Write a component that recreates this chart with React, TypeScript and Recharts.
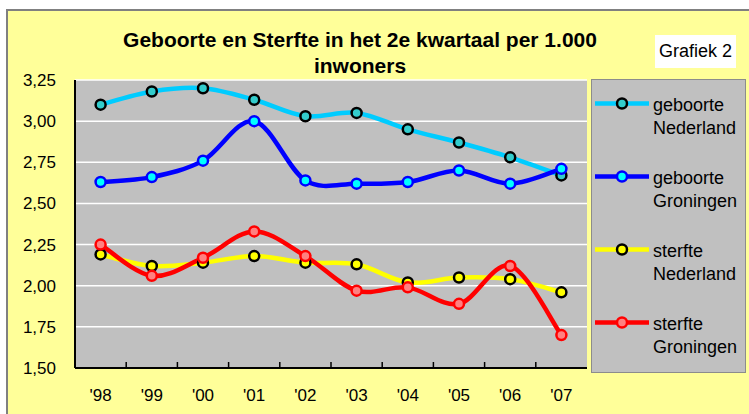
import { LineChart, Line, XAxis, YAxis, CartesianGrid } from 'recharts';

const years = ["'98", "'99", "'00", "'01", "'02", "'03", "'04", "'05", "'06", "'07"];
const geboorteNederland = [3.1, 3.18, 3.2, 3.13, 3.03, 3.05, 2.95, 2.87, 2.78, 2.67];
const geboorteGroningen = [2.63, 2.66, 2.76, 3.0, 2.64, 2.62, 2.63, 2.7, 2.62, 2.71];
const sterfteNederland = [2.19, 2.12, 2.14, 2.18, 2.14, 2.13, 2.02, 2.05, 2.04, 1.96];
const sterfteGroningen = [2.25, 2.06, 2.17, 2.33, 2.18, 1.97, 1.99, 1.89, 2.12, 1.7];
const yTicks = [1.5, 1.75, 2.0, 2.25, 2.5, 2.75, 3.0, 3.25];

const data = years.map((year, i) => ({
  year,
  gebNL: geboorteNederland[i],
  gebGR: geboorteGroningen[i],
  stNL: sterfteNederland[i],
  stGR: sterfteGroningen[i],
}));

const series = [
  { key: 'gebNL', label: ['geboorte', 'Nederland'], line: '#00CCFF', dotFill: '#33CCCC', dotStroke: '#000000' },
  { key: 'gebGR', label: ['geboorte', 'Groningen'], line: '#0000FF', dotFill: '#00FFFF', dotStroke: '#0000FF' },
  { key: 'stNL', label: ['sterfte', 'Nederland'], line: '#FFFF00', dotFill: '#FFFF00', dotStroke: '#000000' },
  { key: 'stGR', label: ['sterfte', 'Groningen'], line: '#FF0000', dotFill: '#FF8080', dotStroke: '#FF0000' },
];

const FONT = '"Liberation Sans", Arial, sans-serif';
const PLOT_W = 749 - 75 - 162;
const HALF_STEP = PLOT_W / years.length / 2;
const X_TICK_GAP = 21;

// Excel-style smoothed line (bezier through points)
function excelCurve(context: any) {
  let pts: number[][] = [];
  return {
    areaStart() {},
    areaEnd() {},
    lineStart() {
      pts = [];
    },
    point(x: number, y: number) {
      pts.push([+x, +y]);
    },
    lineEnd() {
      if (!pts.length) return;
      context.moveTo(pts[0][0], pts[0][1]);
      for (let i = 0; i < pts.length - 1; i++) {
        const p0 = pts[i - 1] || pts[i];
        const p1 = pts[i];
        const p2 = pts[i + 1];
        const p3 = pts[i + 2] || p2;
        context.bezierCurveTo(
          p1[0] + (p2[0] - p0[0]) / 6,
          p1[1] + (p2[1] - p0[1]) / 6,
          p2[0] - (p3[0] - p1[0]) / 6,
          p2[1] - (p3[1] - p1[1]) / 6,
          p2[0],
          p2[1]
        );
      }
    },
  };
}

// year label + small inward tick mark on the category boundary
function YearTick(props: any) {
  const { x, y, payload, index } = props;
  const axisY = y - X_TICK_GAP;
  return (
    <g>
      {index > 0 && (
        <line x1={x - HALF_STEP} x2={x - HALF_STEP} y1={axisY} y2={axisY - 6} stroke="#000" strokeWidth={1.5} />
      )}
      <text x={x} y={y} dy="0.71em" textAnchor="middle" fontSize={17} fontFamily={FONT} fill="#000">
        {payload.value}
      </text>
    </g>
  );
}

function LegendBox() {
  return (
    <svg width={155} height={294} style={{ display: 'block' }}>
      <rect x={0.5} y={0.5} width={154} height={293} fill="#C0C0C0" stroke="#8C8C8C" />
      {series.map((s, i) => {
        const cy = 24.5 + i * 73;
        return (
          <g key={s.key}>
            <line x1={4} x2={58} y1={cy} y2={cy} stroke={s.line} strokeWidth={4.5} />
            <circle cx={31} cy={cy} r={5} fill={s.dotFill} stroke={s.dotStroke} strokeWidth={2.5} />
            <text x={62} y={cy + 7.5} fontSize={18} fontFamily={FONT} fill="#000">
              {s.label[0]}
            </text>
            <text x={62} y={cy + 30} fontSize={18} fontFamily={FONT} fill="#000">
              {s.label[1]}
            </text>
          </g>
        );
      })}
    </svg>
  );
}

export default function App() {
  return (
    <div style={{ position: 'absolute', left: 0, top: 0, width: 749, height: 414, background: '#fff', overflow: 'hidden' }}>
      <div
        style={{
          position: 'absolute',
          left: 6,
          top: 9,
          width: 760,
          height: 420,
          background: '#FFFF99',
          borderLeft: '2px solid #808080',
          borderTop: '2px solid #808080',
        }}
      />
      <div
        style={{
          position: 'absolute',
          left: 0,
          top: 27,
          width: 720,
          textAlign: 'center',
          fontFamily: FONT,
          fontWeight: 'bold',
          fontSize: 21,
          lineHeight: '26px',
        }}
      >
        Geboorte en Sterfte in het 2e kwartaal per 1.000
        <br />
        inwoners
      </div>
      <div
        style={{
          position: 'absolute',
          left: 655,
          top: 35,
          width: 81,
          height: 33,
          background: '#fff',
          textAlign: 'center',
          fontFamily: FONT,
          fontSize: 18,
          lineHeight: '33px',
        }}
      >
        Grafiek 2
      </div>
      <div style={{ position: 'absolute', left: 0, top: 0 }}>
        <LineChart width={749} height={414} data={data} margin={{ top: 80, right: 162, bottom: 16, left: 15 }}>
          <CartesianGrid vertical={false} stroke="#FFFFFF" strokeWidth={1.5} fill="#C0C0C0" fillOpacity={1} />
          <XAxis
            dataKey="year"
            height={30}
            padding={{ left: HALF_STEP, right: HALF_STEP }}
            tickLine={false}
            tickSize={0}
            tickMargin={X_TICK_GAP}
            axisLine={{ stroke: '#000', strokeWidth: 2 }}
            tick={<YearTick />}
            interval={0}
          />
          <XAxis xAxisId="top" orientation="top" dataKey="year" height={0} tick={false} tickLine={false} axisLine={{ stroke: '#808080', strokeWidth: 2 }} />
          <YAxis
            width={60}
            domain={[1.5, 3.25]}
            ticks={yTicks}
            interval={0}
            tickLine={false}
            tickSize={0}
            tickMargin={19}
            axisLine={{ stroke: '#000', strokeWidth: 2 }}
            tick={{ fontSize: 17, fontFamily: FONT, fill: '#000' }}
            tickFormatter={(v: number) => v.toFixed(2).replace('.', ',')}
          />
          <YAxis yAxisId="right" orientation="right" width={0} domain={[1.5, 3.25]} tick={false} tickLine={false} axisLine={{ stroke: '#808080', strokeWidth: 2 }} />
          {series.map((s) => (
            <Line
              key={s.key}
              dataKey={s.key}
              name={s.label.join(' ')}
              type={excelCurve as any}
              stroke={s.line}
              strokeWidth={4.5}
              dot={{ r: 5, fill: s.dotFill, stroke: s.dotStroke, strokeWidth: 2.5 }}
              activeDot={false}
              isAnimationActive={false}
            />
          ))}
        </LineChart>
      </div>
      <div style={{ position: 'absolute', left: 591, top: 79 }}>
        <LegendBox />
      </div>
    </div>
  );
}
